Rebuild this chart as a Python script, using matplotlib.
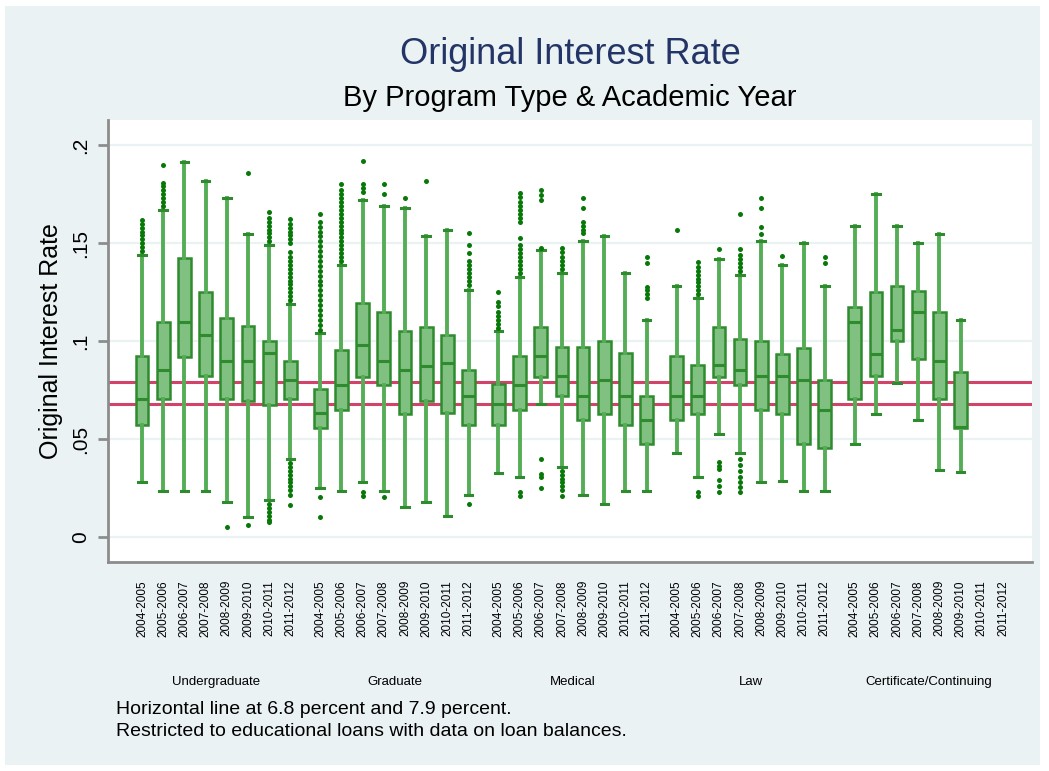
import matplotlib

matplotlib.use("Agg")
import matplotlib.pyplot as plt
from matplotlib.patches import Rectangle
from matplotlib.transforms import blended_transform_factory

plt.rcParams["font.family"] = ["Liberation Sans", "DejaVu Sans"]

programs = ["Undergraduate", "Graduate", "Medical", "Law", "Certificate/Continuing"]
years = ["2004-2005", "2005-2006", "2006-2007", "2007-2008",
         "2008-2009", "2009-2010", "2010-2011", "2011-2012"]
ref_rates = [0.068, 0.079]

# box summaries, one list per program (certificate has no 2010-2012 data)
q1 = [
    [0.0575, 0.0707, 0.0922, 0.0823, 0.0707, 0.0696, 0.0675, 0.0704],
    [0.0556, 0.0650, 0.0820, 0.0777, 0.0630, 0.0696, 0.0636, 0.0575],
    [0.0575, 0.0650, 0.0820, 0.0723, 0.0600, 0.0630, 0.0575, 0.0474],
    [0.0600, 0.0630, 0.0820, 0.0777, 0.0650, 0.0630, 0.0474, 0.0454],
    [0.0707, 0.0823, 0.1000, 0.0908, 0.0707, 0.0558],
]
med = [
    [0.0707, 0.0854, 0.1100, 0.1030, 0.0900, 0.0900, 0.0939, 0.0800],
    [0.0633, 0.0777, 0.0980, 0.0900, 0.0854, 0.0874, 0.0890, 0.0723],
    [0.0679, 0.0777, 0.0927, 0.0825, 0.0723, 0.0800, 0.0723, 0.0600],
    [0.0723, 0.0723, 0.0880, 0.0854, 0.0823, 0.0823, 0.0800, 0.0650],
    [0.1100, 0.0935, 0.1058, 0.1148, 0.0900, 0.0565],
]
q3 = [
    [0.0927, 0.1100, 0.1427, 0.1250, 0.1120, 0.1080, 0.1000, 0.0900],
    [0.0755, 0.0956, 0.1197, 0.1150, 0.1050, 0.1075, 0.1030, 0.0854],
    [0.0780, 0.0927, 0.1075, 0.0970, 0.0970, 0.1000, 0.0939, 0.0723],
    [0.0927, 0.0880, 0.1075, 0.1010, 0.1000, 0.0935, 0.0964, 0.0800],
    [0.1177, 0.1250, 0.1280, 0.1259, 0.1148, 0.0842],
]
whis_lo = [
    [0.0280, 0.0235, 0.0235, 0.0235, 0.0179, 0.0102, 0.0190, 0.0400],
    [0.0250, 0.0235, 0.0280, 0.0235, 0.0156, 0.0179, 0.0110, 0.0216],
    [0.0327, 0.0310, 0.0680, 0.0360, 0.0216, 0.0168, 0.0235, 0.0235],
    [0.0430, 0.0306, 0.0527, 0.0430, 0.0280, 0.0289, 0.0235, 0.0235],
    [0.0474, 0.0630, 0.0786, 0.0600, 0.0344, 0.0335],
]
whis_hi = [
    [0.1440, 0.1670, 0.1917, 0.1820, 0.1730, 0.1546, 0.1490, 0.1190],
    [0.1040, 0.1390, 0.1720, 0.1690, 0.1680, 0.1537, 0.1570, 0.1260],
    [0.1050, 0.1330, 0.1466, 0.1350, 0.1510, 0.1537, 0.1350, 0.1110],
    [0.1280, 0.1220, 0.1420, 0.1340, 0.1510, 0.1390, 0.1500, 0.1280],
    [0.1590, 0.1750, 0.1590, 0.1500, 0.1546, 0.1110],
]
outliers = [
    [
        [0.146, 0.148, 0.150, 0.152, 0.154, 0.156, 0.158, 0.160, 0.162],
        [0.169, 0.171, 0.173, 0.175, 0.177, 0.179, 0.181, 0.190],
        [],
        [],
        [0.0054],
        [0.186, 0.0063],
        [0.151, 0.153, 0.155, 0.157, 0.159, 0.161, 0.163, 0.166,
         0.017, 0.015, 0.013, 0.011, 0.009, 0.008],
        [0.121, 0.123, 0.125, 0.127, 0.129, 0.131, 0.133, 0.135, 0.137, 0.139,
         0.141, 0.143, 0.1455, 0.150, 0.152, 0.154, 0.156, 0.158, 0.160,
         0.1625, 0.038, 0.036, 0.034, 0.032, 0.030, 0.028, 0.026, 0.024,
         0.0216, 0.0165],
    ],
    [
        [0.106, 0.1085, 0.111, 0.1135, 0.116, 0.1185, 0.121, 0.1235, 0.126,
         0.1285, 0.131, 0.1335, 0.136, 0.1385, 0.141, 0.1435, 0.146, 0.1485,
         0.151, 0.1535, 0.156, 0.1585, 0.161, 0.165, 0.0207, 0.0105],
        [0.141, 0.143, 0.145, 0.147, 0.149, 0.151, 0.153, 0.155, 0.157, 0.159,
         0.161, 0.163, 0.165, 0.167, 0.169, 0.171, 0.173, 0.175, 0.177, 0.180],
        [0.176, 0.178, 0.180, 0.192, 0.023, 0.021],
        [0.175, 0.180, 0.0207],
        [0.173],
        [0.182],
        [],
        [0.1285, 0.131, 0.133, 0.135, 0.137, 0.139, 0.141, 0.145, 0.149, 0.155,
         0.0168],
    ],
    [
        [0.107, 0.109, 0.111, 0.113, 0.115, 0.118, 0.120, 0.125],
        [0.135, 0.137, 0.139, 0.141, 0.143, 0.145, 0.147, 0.149, 0.1525, 0.161,
         0.163, 0.165, 0.167, 0.169, 0.171, 0.1735, 0.1755, 0.0233, 0.021],
        [0.1475, 0.172, 0.1745, 0.177, 0.040, 0.0325, 0.031, 0.025],
        [0.137, 0.139, 0.141, 0.143, 0.1455, 0.1475,
         0.034, 0.032, 0.030, 0.028, 0.026, 0.024, 0.021],
        [0.155, 0.157, 0.159, 0.161, 0.168, 0.173],
        [],
        [],
        [0.122, 0.124, 0.126, 0.1275, 0.140, 0.143],
    ],
    [
        [0.157],
        [0.124, 0.126, 0.128, 0.130, 0.132, 0.134, 0.136, 0.138, 0.1406,
         0.023, 0.021],
        [0.147, 0.0386, 0.0366, 0.0346, 0.029, 0.026, 0.0233],
        [0.136, 0.138, 0.140, 0.142, 0.144, 0.147, 0.165,
         0.040, 0.037, 0.034, 0.031, 0.028, 0.0255, 0.0233],
        [0.1548, 0.1585, 0.168, 0.173],
        [0.1435],
        [],
        [0.1398, 0.1429],
    ],
    [[], [], [], [], [], []],
]

bg = "#EAF2F3"
green_fill = "#80C080"
green_edge = "#2E8B2E"
green_line = "#55AD55"
dark_green = "#087808"
red = "#D2436A"

fig = plt.figure(figsize=(10.49, 7.71), dpi=100)
fig.patch.set_facecolor("white")
fig.patches.append(Rectangle((5 / 1049, 6 / 771), 1035 / 1049, 759 / 771,
                             transform=fig.transFigure, facecolor=bg,
                             edgecolor="none", zorder=-10))

ax = fig.add_axes([108 / 1049, 1 - 562 / 771, 924 / 1049, 442 / 771])
ax.set_facecolor("white")

group_gap = 0.41
stats, positions, tick_pos, tick_lab = [], [], [], []
for g, prog in enumerate(programs):
    start = g * (len(years) + group_gap)
    for i, yr in enumerate(years):
        tick_pos.append(start + i)
        tick_lab.append(yr)
    for i in range(len(med[g])):
        stats.append(dict(med=med[g][i], q1=q1[g][i], q3=q3[g][i],
                          whislo=whis_lo[g][i], whishi=whis_hi[g][i],
                          fliers=outliers[g][i]))
        positions.append(start + i)

for r in ref_rates:
    ax.axhline(r, color=red, lw=2.2, zorder=1)

ax.bxp(stats, positions=positions, widths=0.6, capwidths=0.36,
       patch_artist=True, showfliers=True, manage_ticks=False,
       boxprops=dict(facecolor=green_fill, edgecolor=green_edge, lw=1.8),
       whiskerprops=dict(color=green_line, lw=2.8),
       capprops=dict(color=green_edge, lw=2.2),
       medianprops=dict(color=green_edge, lw=2.2),
       flierprops=dict(marker="o", markersize=3.6, markerfacecolor=dark_green,
                       markeredgewidth=0, linestyle="none"),
       zorder=3)

ax.set_xlim(-1.61, tick_pos[-1] + 1.37)
ax.set_ylim(-0.0126, 0.2129)
ax.set_yticks([0, 0.05, 0.1, 0.15, 0.2])
ax.set_yticklabels(["0", ".05", ".1", ".15", ".2"], rotation=90, va="center",
                   fontsize=15)
ax.yaxis.grid(True, color=bg, lw=1.6, zorder=0)
ax.set_axisbelow(True)
ax.set_xticks(tick_pos)
ax.set_xticklabels(tick_lab, rotation=90, fontsize=8.5)
ax.tick_params(axis="x", length=0, pad=13)
ax.tick_params(axis="y", length=7, width=2, color="#8C8C8C", pad=6)
for side in ["top", "right"]:
    ax.spines[side].set_visible(False)
for side in ["left", "bottom"]:
    ax.spines[side].set_color("#8C8C8C")
    ax.spines[side].set_linewidth(2)

ax.set_ylabel("Original Interest Rate", fontsize=18, labelpad=6)

trans = blended_transform_factory(ax.transData, fig.transFigure)
for g, prog in enumerate(programs):
    center = g * (len(years) + group_gap) + (len(years) - 1) / 2
    ax.text(center, 1 - 682 / 771, prog, transform=trans, ha="center",
            va="center", fontsize=9.5)

fig.text(570 / 1049, 1 - 55 / 771, "Original Interest Rate", ha="center",
         va="center", fontsize=26, color="#233466")
fig.text(570 / 1049, 1 - 98 / 771, "By Program Type & Academic Year",
         ha="center", va="center", fontsize=21, color="black")
fig.text(116 / 1049, 1 - 710 / 771,
         "Horizontal line at 6.8 percent and 7.9 percent.", ha="left",
         va="center", fontsize=14)
fig.text(116 / 1049, 1 - 732 / 771,
         "Restricted to educational loans with data on loan balances.",
         ha="left", va="center", fontsize=14)

fig.savefig("out.png", dpi=100, facecolor=fig.get_facecolor())
